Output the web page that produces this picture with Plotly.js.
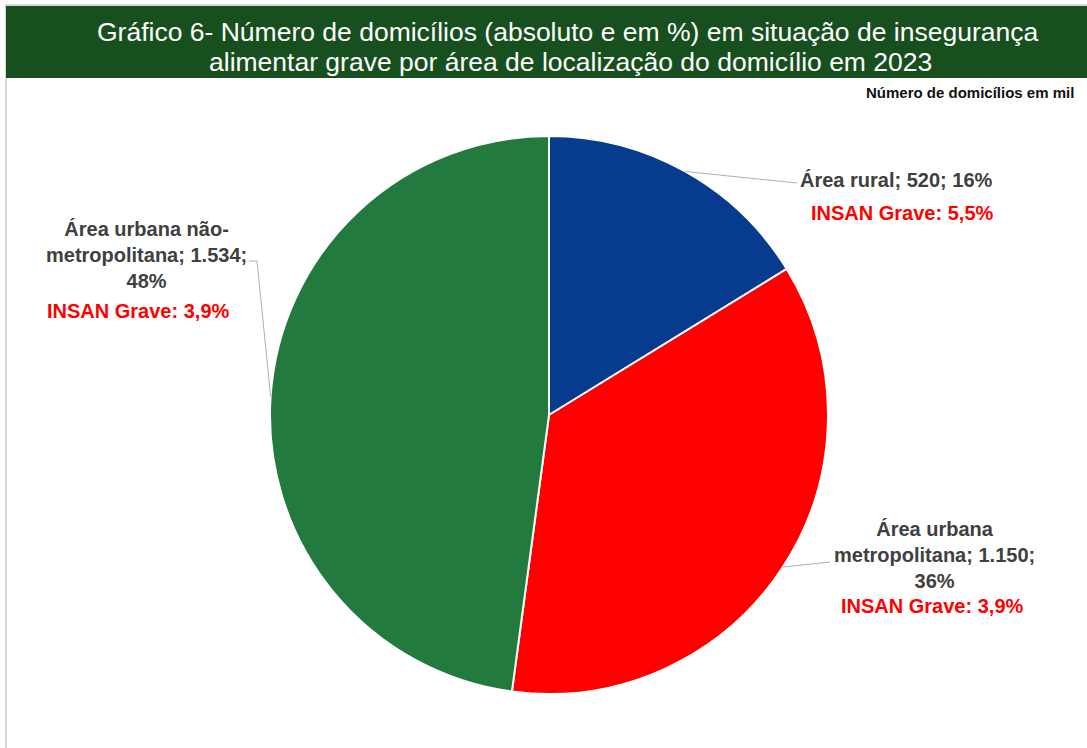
<!DOCTYPE html>
<html>
<head>
<meta charset="utf-8">
<script src="https://cdn.plot.ly/plotly-3.0.1.min.js"></script>
<style>html,body{margin:0;padding:0;background:#fff;}#chart{width:1087px;height:748px;}</style>
</head>
<body>
<div id="chart"></div>
<script>
const categories = ["Área rural", "Área urbana metropolitana", "Área urbana não-metropolitana"];
const values = [520, 1150, 1534];
const valueLabels = ["520", "1.150", "1.534"];
const percentLabels = ["16%", "36%", "48%"];
const insanLabels = ["INSAN Grave: 5,5%", "INSAN Grave: 3,9%", "INSAN Grave: 3,9%"];
const colors = ["#063b8d", "#ff0000", "#237a3e"];

const W = 1087, H = 748;
const px = x => x / W;
const py = y => 1 - y / H;

// pie geometry (pixels)
const cx = 549, cy = 415, R = 279;
const dom = {x: [px(cx - R), px(cx + R)], y: [py(cy + R), py(cy - R)]};

const total = values.reduce((a, b) => a + b, 0);
let cum = 0;
const mids = values.map(v => { const m = (cum + v / 2) / total * 2 * Math.PI; cum += v; return m; });
const edge = i => [cx + R * Math.sin(mids[i]), cy - R * Math.cos(mids[i])];

const grey = "#404040";
const FF = "Liberation Sans, Arial, sans-serif";
const lblFont = {family: FF, size: 20, color: grey, weight: 700};
const redFont = {family: FF, size: 20, color: "#ff0000", weight: 700};

const labelText = [
  categories[0] + "; " + valueLabels[0] + "; " + percentLabels[0],
  "Área urbana<br>metropolitana; " + valueLabels[1] + ";<br>" + percentLabels[1],
  "Área urbana não-<br>metropolitana; " + valueLabels[2] + ";<br>" + percentLabels[2]
];

const annotations = [
  {x: px(567), y: py(32), text: "Gráfico 6- Número de domicílios (absoluto e em %) em situação de insegurança", showarrow: false, xanchor: "center", yanchor: "middle", font: {family: FF, size: 26.5, color: "#ffffff"}},
  {x: px(570), y: py(62), text: "alimentar grave por área de localização do domicílio em 2023", showarrow: false, xanchor: "center", yanchor: "middle", font: {family: FF, size: 26.5, color: "#ffffff"}},
  {x: px(1076), y: py(92), text: "<b>Número de domicílios em mil</b>", showarrow: false, xanchor: "right", yanchor: "middle", font: {family: FF, size: 15, color: "#111111"}},
  {x: px(896), y: py(180), text: "<b>" + labelText[0] + "</b>", showarrow: false, xanchor: "center", yanchor: "middle", font: lblFont},
  {x: px(902), y: py(213), text: "<b>" + insanLabels[0] + "</b>", showarrow: false, xanchor: "center", yanchor: "middle", font: redFont},
  {x: px(934), y: py(555), text: "<b>" + labelText[1] + "</b>", showarrow: false, xanchor: "center", yanchor: "middle", align: "center", font: lblFont},
  {x: px(932), y: py(606), text: "<b>" + insanLabels[1] + "</b>", showarrow: false, xanchor: "center", yanchor: "middle", font: redFont},
  {x: px(146), y: py(255), text: "<b>" + labelText[2] + "</b>", showarrow: false, xanchor: "center", yanchor: "middle", align: "center", font: lblFont},
  {x: px(138), y: py(311), text: "<b>" + insanLabels[2] + "</b>", showarrow: false, xanchor: "center", yanchor: "middle", font: redFont}
];

const lineStyle = {color: "#b0b0b0", width: 1};
const e0 = edge(0), e1 = edge(1), e2 = edge(2);
const shapes = [
  {type: "rect", xref: "paper", yref: "paper", x0: px(6), x1: px(1095), y0: py(760), y1: py(5), line: {color: "#d9d9d9", width: 2}, fillcolor: "rgba(0,0,0,0)", layer: "below"},
  {type: "rect", xref: "paper", yref: "paper", x0: px(6), x1: px(1095), y0: py(78), y1: py(6), line: {width: 0}, fillcolor: "#174f1e", layer: "below"},
  {type: "line", xref: "paper", yref: "paper", x0: px(e0[0]), y0: py(e0[1]), x1: px(797), y1: py(183), line: lineStyle},
  {type: "line", xref: "paper", yref: "paper", x0: px(e1[0]), y0: py(e1[1]), x1: px(830), y1: py(562), line: lineStyle},
  {type: "path", xref: "paper", yref: "paper", path: "M " + px(e2[0]) + "," + py(e2[1]) + " L " + px(257) + "," + py(261) + " L " + px(249) + "," + py(261), line: lineStyle}
];

const data = [{
  type: "pie",
  labels: categories,
  values: values,
  sort: false,
  direction: "clockwise",
  rotation: 0,
  textinfo: "none",
  hoverinfo: "label+value+percent",
  marker: {colors: colors, line: {color: "#ffffff", width: 2}},
  domain: dom,
  showlegend: false
}];

const layout = {
  width: W, height: H,
  margin: {l: 0, r: 0, t: 0, b: 0},
  paper_bgcolor: "#ffffff",
  showlegend: false,
  annotations: annotations,
  shapes: shapes
};

Plotly.newPlot("chart", data, layout, {displayModeBar: false, staticPlot: true});
</script>
</body>
</html>
